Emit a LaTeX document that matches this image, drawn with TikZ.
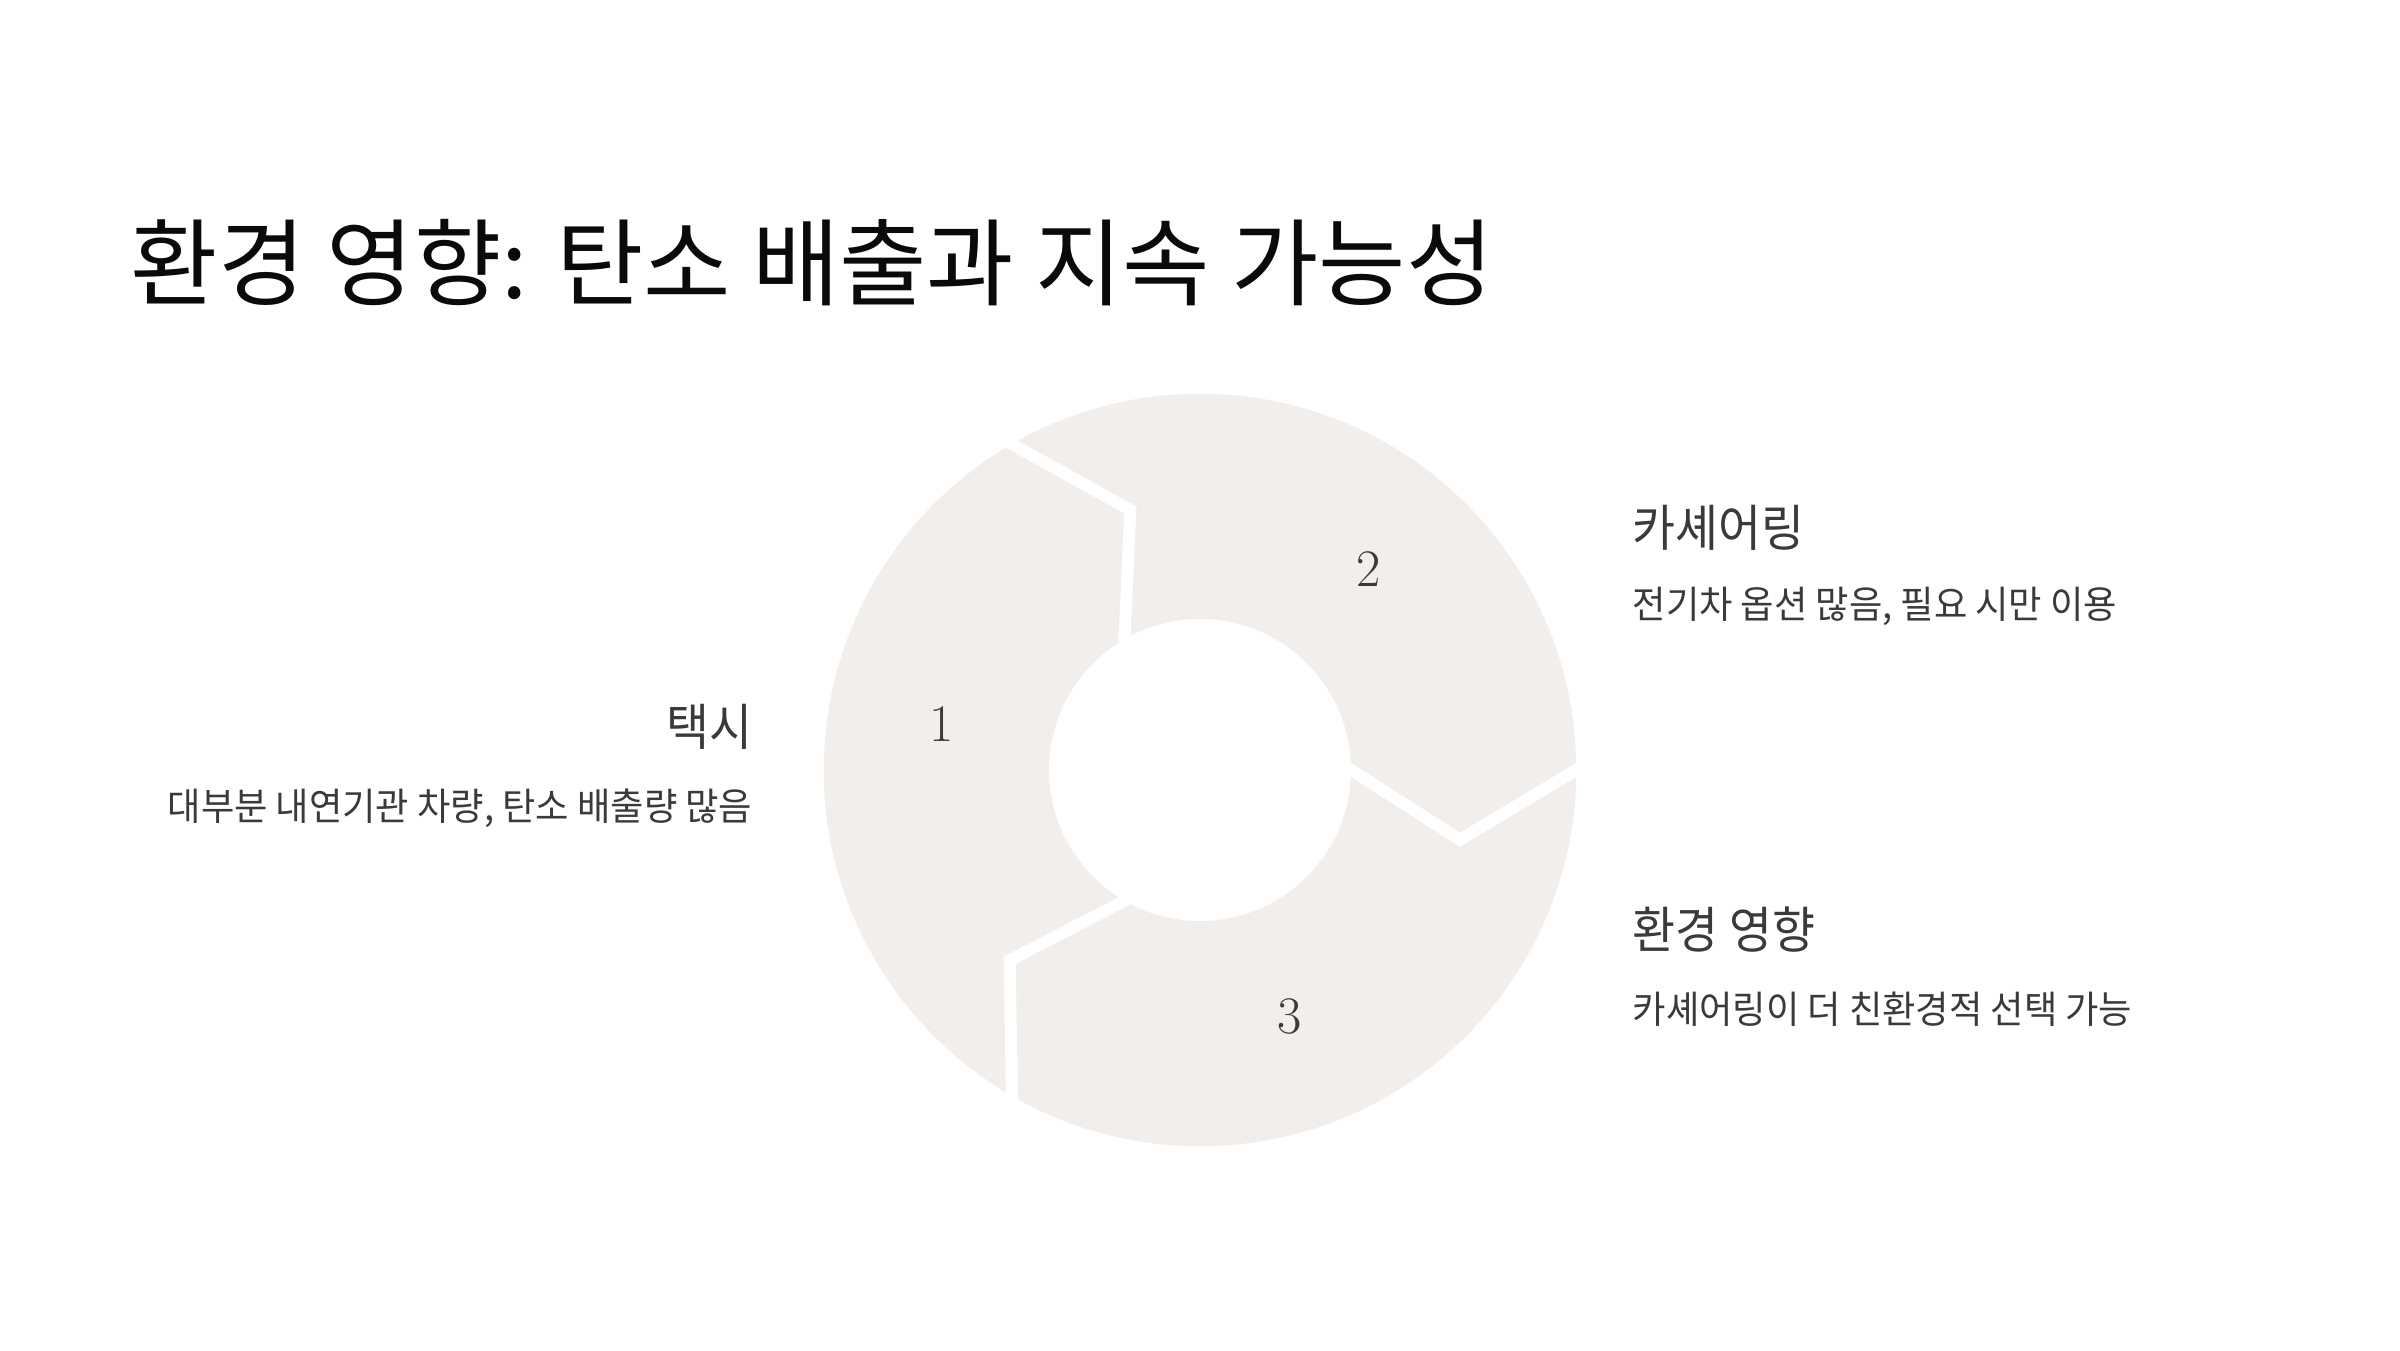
\documentclass[tikz,border=0pt]{standalone}
\usepackage{fontspec}
\usetikzlibrary{calc}
\newfontfamily\krtitle{Noto Sans CJK KR}
\newfontfamily\krhead[FakeStretch=0.935]{Noto Sans CJK KR}
\newfontfamily\krtext[FakeStretch=0.955]{Noto Sans CJK KR}
\definecolor{ringfill}{RGB}{241,238,236}
\definecolor{labeltext}{RGB}{58,58,58}
\definecolor{titletext}{RGB}{10,10,10}
\tikzset{
  titlestyle/.style={anchor=west, inner sep=0pt, text=titletext, font=\krtitle\fontsize{27}{30}\selectfont},
  headstyle/.style={inner sep=0pt, text=labeltext, font=\krhead\fontsize{14.2}{17}\selectfont},
  descstyle/.style={inner sep=0pt, text=labeltext, font=\krtext\fontsize{10.8}{13}\selectfont},
  numstyle/.style={inner sep=0pt, text=labeltext, font=\fontsize{15}{18}\selectfont},
  gapline/.style={white, line width=0.12cm, line join=miter}
}
\begin{document}
\begin{tikzpicture}[x=0.01cm, y=0.01cm]
\useasboundingbox[fill=white] (0,0) rectangle (2400,1350);
\coordinate (C) at (1200,580);
% ring
\fill[ringfill, even odd rule] (C) circle[radius=3.76cm] (C) circle[radius=1.51cm];
\begin{scope}[shift={(C)}]
\foreach \t in {0,120,240}{
  \coordinate (I) at (\t:1.51cm);
  \coordinate (T) at (\t-15:2.69cm);
  \coordinate (O) at (\t:3.76cm);
  \draw[gapline] ($(T)!1.4!(I)$) -- (T) -- ($(T)!1.2!(O)$);
}
\node[numstyle] (n1) at (170:2.62cm) {1};
\node[numstyle] (n2) at (50:2.62cm) {2};
\node[numstyle] (n3) at (-70:2.62cm) {3};
\end{scope}
% title
\node[titlestyle] (title) at (130,1087) {환경 영향: 탄소 배출과 지속 가능성};
% labels
\node[headstyle, anchor=east] (h1) at (753,623) {택시};
\node[descstyle, anchor=east] (d1) at (753,542) {대부분 내연기관 차량, 탄소 배출량 많음};
\node[headstyle, anchor=west] (h2) at (1632,822) {카셰어링};
\node[descstyle, anchor=west] (d2) at (1632,744) {전기차 옵션 많음, 필요 시만 이용};
\node[headstyle, anchor=west] (h3) at (1632,420) {환경 영향};
\node[descstyle, anchor=west] (d3) at (1632,341) {카셰어링이 더 친환경적 선택 가능};
\end{tikzpicture}
\end{document}
